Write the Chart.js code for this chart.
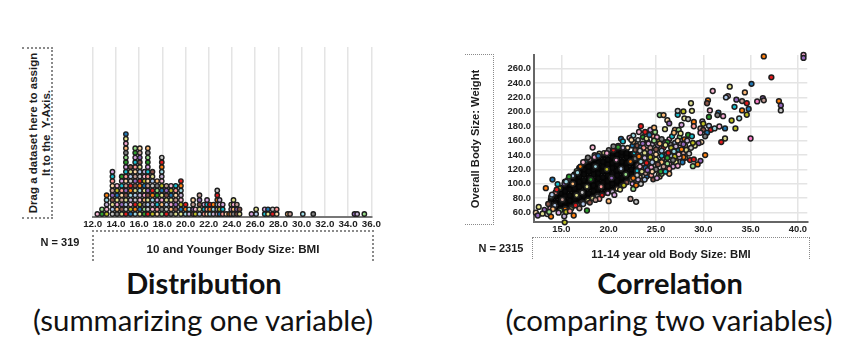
<!DOCTYPE html>
<html><head><meta charset="utf-8">
<script src="https://cdn.jsdelivr.net/npm/chart.js@4/dist/chart.umd.min.js"></script>
<style>
html,body{margin:0;padding:0;background:#fff;width:858px;height:354px;overflow:hidden}
canvas{position:absolute}
.t{position:absolute;font-family:"Liberation Sans",Arial,sans-serif;font-weight:bold;color:#1c1c1c;white-space:nowrap}
.rot{transform:translate(-50%,-50%) rotate(-90deg);text-align:center;line-height:13px}
.c{transform:translate(-50%,-50%)}
.box{position:absolute;box-sizing:border-box;border:0 dotted #8a8a8a}
.cap{position:absolute;font-family:Lato,sans-serif;color:#111;white-space:nowrap;transform:translate(-50%,-50%)}
</style></head><body>
<canvas id="dist" width="320" height="200" style="left:70px;top:40px"></canvas>
<canvas id="corr" width="340" height="200" style="left:490px;top:40px"></canvas>

<div class="box" style="left:22px;top:47px;width:31px;height:172px;border-top-width:2px;border-right-width:2px;border-bottom-width:2px"></div>
<div class="t rot" style="left:40px;top:133px;font-size:11.5px">Drag a dataset here to assign<br>It to the&nbsp; Y-Axis.</div>
<div class="box" style="left:92px;top:230px;width:282px;height:31px;border-top-width:2px;border-left-width:2px;border-right-width:2px"></div>
<div class="t c" style="left:233px;top:248px;font-size:11.6px">10 and Younger Body Size: BMI</div>
<div class="t c" style="left:60px;top:242px;font-size:11px">N = 319</div>

<div class="box" style="left:465px;top:54px;width:29px;height:171px;border-top-width:1px;border-right-width:1px;border-bottom-width:1px"></div>
<div class="t rot" style="left:475px;top:139px;font-size:11.2px">Overall Body Size: Weight</div>
<div class="box" style="left:532px;top:237px;width:278px;height:22px;border-top-width:1px;border-left-width:1px;border-right-width:1px"></div>
<div class="t c" style="left:671px;top:254px;font-size:11.3px">11-14 year old Body Size: BMI</div>
<div class="t c" style="left:501px;top:248px;font-size:11px">N = 2315</div>

<div class="cap" style="left:204px;top:282px;font-size:29px;font-weight:bold">Distribution</div>
<div class="cap" style="left:203px;top:319px;font-size:29.4px">(summarizing one variable)</div>
<div class="cap" style="left:670px;top:282px;font-size:29px;font-weight:bold">Correlation</div>
<div class="cap" style="left:669px;top:319px;font-size:29.4px">(comparing two variables)</div>

<script>
// ---------- Distribution: dot columns ----------
const distBmi   = [12.4,12.8,13.2,13.7,14.1,14.5,14.86,15.26,15.66,16.06,16.46,16.75,17.15,17.55,17.95,18.35,18.75,19.15,19.6,20.0,20.3,20.65,20.85,21.2,21.6,21.85,22.1,22.4,22.73,22.93,23.2,23.5,23.75,23.93,24.13,24.42,24.65,25.68,26.08,26.82,27.1,27.5,27.85,28.8,29.0,30.1,31.0,34.55,34.78,35.4];
const distCount = [1,2,5,10,7,9,18,11,15,15,10,15,10,8,13,7,7,7,8,3,2,4,2,5,3,4,3,3,6,4,3,1,1,3,4,3,2,1,2,2,2,2,2,1,1,1,1,1,1,1];
const distTicks = [12,14,16,18,20,22,24,26,28,30,32,34,36];

// ---------- Correlation: points ----------
const corrXTicks = [15,20,25,30,35,40];
const corrYTicks = [60,80,100,120,140,160,180,200,220,240,260];

// isolated, individually readable points and their colours
const soloPoints = [[40.6,279],[40.6,275],[36.4,277],[37.2,248],[35.1,239],[32.8,235],[31,229],[34.4,227],[32.6,222],[32.4,220],[33.5,217],[36.3,219],[36.4,216],[35.7,214.5],[34.1,215],[34.6,212],[30.5,216],[30.4,212],[28.7,212],[38,215],[38.2,209],[38.2,202],[33.3,207],[34.8,204],[34.1,202],[34.6,196],[33.8,191],[33,188],[33.4,177],[32.3,177],[35,163],[32.3,163],[31.9,158],[30.2,140],[23.4,180],[18.3,150.5],[14.05,106],[13.35,94],[12.6,68],[17.7,63],[15.35,46.5],[16.3,56],[22.9,75],[22.3,79],[27.3,201.5],[27.9,200.6],[28.8,201.5],[25.4,195.5],[25.8,195.5],[24.8,178],[28.6,133],[29,134],[29.7,132],[29.4,127],[28.9,124.5]];
const soloColors = ["#f4a6d0","#9467bd","#ff7f0e","#e41a1c","#1f77b4","#e7e78d","#f7b6d2","#ffbb78","#f7b6d2","#aec7e8","#9467bd","#9467bd","#c49c94","#f77fc9","#c49c94","#e41a1c","#ff7f0e","#8c564b","#dbdb8d","#ff7f0e","#9467bd","#c7c7c7","#17becf","#1f77b4","#ff7f0e","#bcbd22","#9edae5","#bcbd22","#bcbd22","#1f77b4","#f77fc9","#dbdb8d","#e41a1c","#ff7f0e","#e41a1c","#f7b6d2","#1f77b4","#ff7f0e","#e7e78d","#2ca02c","#bcbd22","#ff7f0e","#c7c7c7","#c49c94","#c7c7c7","#bcbd22","#e7e78d","#98df8a","#ffbb78","#ffbb78","#e41a1c","#e41a1c","#9467bd","#ff7f0e","#98df8a"];

// scattered points around the edge of the cloud and in its thinner upper end
const edgePoints = [[30.7,202],[31.6,199],[32.1,194],[31.5,195.5],[30.6,193],[27.3,196],[26.2,188.5],[26.4,184],[28,191],[28.4,190],[29,186],[29.9,186.7],[30,183.5],[25.95,176],[27,175],[27.4,175],[27.7,182],[29,180],[29.7,177],[30,175],[30.6,180.6],[30.8,175],[31.2,177],[31.7,179.7],[30.4,171],[29.7,171],[30.2,166],[28.4,168],[28.8,166],[29.8,158],[29.5,156.5],[29.1,153],[28.7,150],[27.9,137],[27.5,137],[27,138],[27.1,130],[26.4,114],[25.6,114],[25.1,108],[24.5,112],[23.9,115],[23.5,104.5],[23.8,106],[23.85,172],[22.6,167],[22.2,164],[21.3,162.5],[18.5,137],[17.8,136.5],[15.8,110],[14.6,99.5],[12.3,60],[12.5,56],[13,58.6],[13.5,58],[13.9,54.5],[15.3,55],[15.5,61],[16,65],[20,76],[22.6,93],[20.6,84.6],[19,79],[18.6,77.6],[18,74],[17.3,72],[16.5,70],[16.7,115.7],[17.3,130],[18.9,139],[19.8,142.6],[20.5,152],[21,151],[21.5,159],[22.4,161],[23.6,156],[24,163],[23.4,100],[22.9,98],[23.1,106],[21.6,98],[21.2,92],[14.1,65],[13.7,61],[14.7,60],[15.9,62],[16.9,66],[13.6,72],[14,85],[14.5,92],[15.5,103],
[23.2,172],[24.3,168],[25.1,165],[25.6,162],[26.2,158],[26.7,166],[27.3,160],[27.9,155],[28.2,147],[28.5,142],[27.7,148],[27.1,152],[26.6,150],[26,154],[25.4,156],[24.8,160],[24.2,156],[23.7,150],[24.4,150],[25,148],[25.6,146],[26.3,143],[26.9,145],[27.4,141],[27.8,130],[27.3,125],[26.8,133],[26.2,136],[25.6,139],[25,141],[24.4,144],[23.8,143],[23.3,146],[23.2,138],[23.8,136],[24.4,137],[25,134],[25.6,130],[26.2,128],[26.8,124],[26.4,121],[25.8,124],[25.2,127],[24.6,130],[24,129],[23.4,131],[23.3,124],[23.9,122],[24.5,123],[25,120],[25.5,117],[26,117],[24.6,117],[24.1,119],[23.5,117],[23,112],[22.6,108],[28.3,160],[28.9,157],[27.6,170],[26.9,171],[24.9,172],[24.4,175]];

// points along the rim of the dense area, overlapping it, and filling its thinner end
const rimPoints = [[13.2,64],[13.8,66],[14.3,70],[14.9,63],[15.4,65],[16.1,67],[16.7,70],[17.2,74],[17.8,77],[18.3,80],[18.8,83],[19.3,84],[19.9,87],[20.4,89],[20.9,93],[21.4,97],[21.9,102],[22.4,106],[22.9,110],[23.3,113],[13.9,82],[14.4,88],[14.8,94],[15.3,100],[15.7,106],[16.2,111],[16.6,118],[17,124],[17.5,131],[18,134],[18.5,140],[19,142],[19.5,143],[20,147],[20.5,147],[21,153],[21.5,150],[22,150],[22.5,153],[23,153],[16.2,100],[17.2,88],[18.1,106],[18.6,124],[19.2,96],[19.8,120],[20.3,108],[20.8,133],[21.3,121],[21.8,113],[22.3,131],[22.7,143],[23.1,126],[15.1,78],[16.6,84],[17.7,96],
[22.8,135],[23.1,141],[23.5,137],[23.6,127],[23.9,132],[24.2,126],[24.3,140],[24.7,136],[24.8,125],[25.2,131],[25.3,143],[25.7,135],[25.9,128],[26.1,141],[26.5,127],[26.6,139],[26.9,128],[27.2,135],[27.4,147],[27.6,156],[27.9,143],[28.1,136],[28.1,153],[26.5,155],[25.8,150],[25.2,153],[24.6,155],[24,147],[23.4,151],[22.8,147],[22.6,158],[23.1,161],[23.6,165],[24.1,159],[24.7,166],[25.3,160],[25.9,158],[26.4,162],[27,157],[27.5,165],[28,162],[23,118],[23.6,122],[24.2,113],[24.8,119],[25.3,113],[25.8,120],[26.3,116],[22.5,100],[23,103],[23.3,109],[24,110],[24.7,106],[25.4,110]];

// dense middle of the cloud, estimated as columns: [x, y, y, y, ...]
const coreColumns = [
 [13.9,70,78],
 [14.4,66,74,82,88],
 [14.9,66,73,80,87,94],
 [15.4,68,75,83,90,97,103],
 [15.9,70,77,84,92,99,106],
 [16.4,72,79,87,94,101,108,113],
 [16.9,74,81,89,96,103,110,117,122],
 [17.4,76,83,90,98,105,113,120,127],
 [17.9,80,87,95,102,109,117,124,131],
 [18.4,83,90,98,105,113,120,127,134],
 [18.9,86,93,100,108,115,122,130,137],
 [19.4,87,95,102,109,117,124,131,139],
 [19.9,90,97,104,112,119,127,134,142],
 [20.4,92,100,107,114,122,129,137,143],
 [20.9,97,104,112,119,127,134,141,147],
 [21.4,102,109,117,124,131,139,144],
 [21.9,107,114,122,129,137,143],
 [22.4,113,120,128,135,141],
 [22.9,118,125,132]
];

const palette = ["#f7b6d2","#ff7f0e","#aec7e8","#9467bd","#ff9896","#2ca02c","#ffbb78","#1f77b4","#c5b0d5","#e41a1c","#dbdb8d","#c49c94","#17becf","#98df8a","#f4a6d0","#bcbd22","#9edae5","#c7c7c7","#8c564b","#ffd8a8","#d9a6e0","#7f7f7f","#e7e78d"];
const edge = "#1e1e1e";

// ---------- build marks ----------
const distPts = [];
distBmi.forEach((b,i)=>{ for(let k=0;k<distCount[i];k++) distPts.push({x:b,y:k}); });
const distColors = distPts.map((p,i)=>palette[(i*5+p.y*3)%palette.length]);

const corePts = [];
coreColumns.forEach(c=>{ for(let k=1;k<c.length;k++) corePts.push({x:c[0],y:c[k]}); });

const toXY = a=>a.map(p=>({x:p[0],y:p[1]}));
const edgeColors = edgePoints.map((p,i)=>palette[(i*7)%palette.length]);
const rimColors = rimPoints.map((p,i)=>palette[(i*11+3)%palette.length]);

function fixedX(h){return s=>{s.height=h;};}
function fixedY(w){return s=>{s.width=w;};}

new Chart(document.getElementById('dist'),{
  type:'scatter',
  data:{datasets:[{data:distPts,backgroundColor:distColors,borderColor:edge,borderWidth:1.4,pointRadius:2.2,clip:false}]},
  options:{responsive:false,animation:false,devicePixelRatio:1,
    layout:{padding:{left:22.7,right:18.7,top:7,bottom:0}},
    plugins:{legend:{display:false},tooltip:{enabled:false}},
    scales:{
      x:{type:'linear',min:12,max:36,afterFit:fixedX(23.3),
         afterBuildTicks:s=>{s.ticks=distTicks.map(v=>({value:v}));},
         grid:{color:'#e4e4e4',lineWidth:1.5,drawTicks:false},
         border:{color:'#777',width:2},
         ticks:{color:'#222',padding:2,maxRotation:0,autoSkip:false,font:{family:'"Liberation Sans"',size:9.8,weight:'bold'},callback:v=>Number(v).toFixed(1)}},
      y:{display:false,min:-0.57,max:35.5}
    }}
});

new Chart(document.getElementById('corr'),{
  type:'scatter',
  data:{datasets:[
    {data:toXY(soloPoints),backgroundColor:soloColors,borderColor:edge,borderWidth:1.5,pointRadius:2.4,clip:false,order:1},
    {data:toXY(rimPoints),backgroundColor:rimColors,borderColor:edge,borderWidth:1.6,pointRadius:2.2,clip:false,order:3},
    {data:toXY(edgePoints),backgroundColor:edgeColors,borderColor:edge,borderWidth:1.5,pointRadius:2.4,clip:false,order:2},
    {data:corePts,backgroundColor:'#0a0a0a',borderColor:'#050505',borderWidth:1.4,pointRadius:2.6,clip:false,order:4}
  ]},
  options:{responsive:false,animation:false,devicePixelRatio:1,
    layout:{padding:{left:0,right:22.7,top:15,bottom:0}},
    plugins:{legend:{display:false},tooltip:{enabled:false}},
    scales:{
      x:{type:'linear',min:12.1,max:41,afterFit:fixedX(18),
         afterBuildTicks:s=>{s.ticks=corrXTicks.map(v=>({value:v}));},
         grid:{color:'#e4e4e4',lineWidth:1.5,drawTicks:false},
         border:{color:'#666',width:2},
         ticks:{color:'#222',padding:2,maxRotation:0,autoSkip:false,font:{family:'"Liberation Sans"',size:9.4,weight:'bold'},callback:v=>Number(v).toFixed(1)}},
      y:{type:'linear',min:47,max:279,afterFit:fixedY(44),
         afterBuildTicks:s=>{s.ticks=corrYTicks.map(v=>({value:v}));},
         grid:{color:'#e4e4e4',lineWidth:1.5,drawTicks:false},
         border:{color:'#666',width:2},
         ticks:{color:'#222',padding:3,autoSkip:false,font:{family:'"Liberation Sans"',size:9.4,weight:'bold'},callback:v=>Number(v).toFixed(1)}}
    }}
});
</script>
</body></html>
